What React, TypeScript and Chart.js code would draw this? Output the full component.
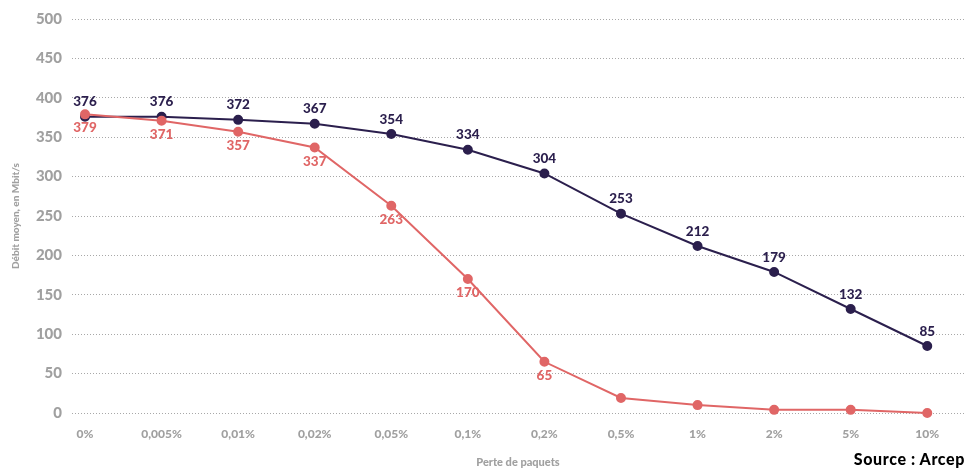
import React, { useEffect, useRef } from "react";
import { Chart, registerables } from "chart.js";

Chart.register(...registerables);

const categories = ["0%", "0,005%", "0,01%", "0,02%", "0,05%", "0,1%", "0,2%", "0,5%", "1%", "2%", "5%", "10%"];
const seriesDark = [376, 376, 372, 367, 354, 334, 304, 253, 212, 179, 132, 85];
const seriesRed = [379, 371, 357, 337, 263, 170, 65, 19, 10, 4, 4, 0];
const redLabelCount = 7;
const yTitle = "Débit moyen, en Mbit/s";
const xTitle = "Perte de paquets";
const sourceText = "Source : Arcep";

const DARK = "#2b1f4d";
const RED = "#e06666";
const GREY = "#a0a0a0";
const FONT = "Lato, 'Open Sans', sans-serif";

const labelPlugin = {
  id: "valueLabels",
  afterDatasetsDraw(chart: any) {
    const ctx = chart.ctx;
    ctx.save();
    ctx.font = `900 13.5px ${FONT}`;
    ctx.textAlign = "center";
    chart.data.datasets.forEach((ds: any, di: number) => {
      const meta = chart.getDatasetMeta(di);
      meta.data.forEach((pt: any, i: number) => {
        const v = ds.data[i].y;
        if (di === 1 && i >= redLabelCount) return;
        ctx.fillStyle = ds.borderColor;
        if (di === 0) {
          ctx.textBaseline = "bottom";
          ctx.fillText(String(v), pt.x, pt.y - 8);
        } else {
          ctx.textBaseline = "top";
          ctx.fillText(String(v), pt.x, pt.y + 7);
        }
      });
    });
    ctx.restore();
  },
};

export default function App() {
  const ref = useRef<HTMLCanvasElement>(null);
  useEffect(() => {
    document.body.style.margin = "0";
    const canvas = ref.current!;
    const chart = new Chart(canvas, {
      type: "line",
      data: {
        datasets: [
          {
            data: seriesDark.map((y, i) => ({ x: i, y })),
            borderColor: DARK,
            backgroundColor: DARK,
            borderWidth: 2,
            pointRadius: 4,
            pointHoverRadius: 4,
            tension: 0,
            clip: false,
            order: 1,
          },
          {
            data: seriesRed.map((y, i) => ({ x: i, y })),
            borderColor: RED,
            backgroundColor: RED,
            borderWidth: 2,
            pointRadius: 4,
            pointHoverRadius: 4,
            tension: 0,
            clip: false,
            order: 0,
          },
        ],
      },
      options: {
        animation: false,
        responsive: false,
        maintainAspectRatio: false,
        layout: { padding: { top: 19, right: 5, left: 0, bottom: 0 } },
        plugins: { legend: { display: false }, tooltip: { enabled: false } },
        scales: {
          x: {
            type: "linear",
            min: -0.17,
            max: 11.48,
            grid: { display: false },
            border: { display: false },
            afterBuildTicks: (scale: any) => {
              scale.ticks = categories.map((_, i) => ({ value: i }));
            },
            afterFit: (scale: any) => {
              scale.height = 56;
            },
            ticks: {
              autoSkip: false,
              maxRotation: 0,
              padding: 6,
              color: GREY,
              font: { family: FONT, weight: "900", size: 12 },
              callback: (v: any) => categories[Math.round(Number(v))] ?? "",
            },
            title: {
              display: true,
              text: xTitle,
              color: GREY,
              font: { family: FONT, weight: "900", size: 11 },
              padding: { top: 9, bottom: 0 },
            },
          },
          y: {
            min: 0,
            max: 500,
            border: { display: false, dash: [1, 2] },
            afterFit: (scale: any) => {
              scale.width = 72;
            },
            grid: {
              color: "#a8a8a8",
              lineWidth: 1,
              drawTicks: false,
            },
            ticks: {
              stepSize: 50,
              padding: 10,
              color: GREY,
              font: { family: FONT, weight: "900", size: 15 },
            },
            title: {
              display: true,
              text: yTitle,
              color: GREY,
              font: { family: FONT, weight: "900", size: 10 },
              padding: { top: 10, bottom: 0 },
            },
          },
        },
      },
      plugins: [labelPlugin],
    } as any);
    return () => chart.destroy();
  }, []);
  return (
    <div style={{ position: "relative", width: 970, height: 469 }}>
      <canvas ref={ref} width={970} height={469} style={{ width: 970, height: 469 }} />
      <div
        style={{
          position: "absolute",
          right: 5,
          bottom: 0,
          fontFamily: FONT,
          fontWeight: 900,
          fontSize: 16,
          letterSpacing: "0.6px",
          color: "#000",
          lineHeight: "20px",
        }}
      >
        {sourceText}
      </div>
    </div>
  );
}
